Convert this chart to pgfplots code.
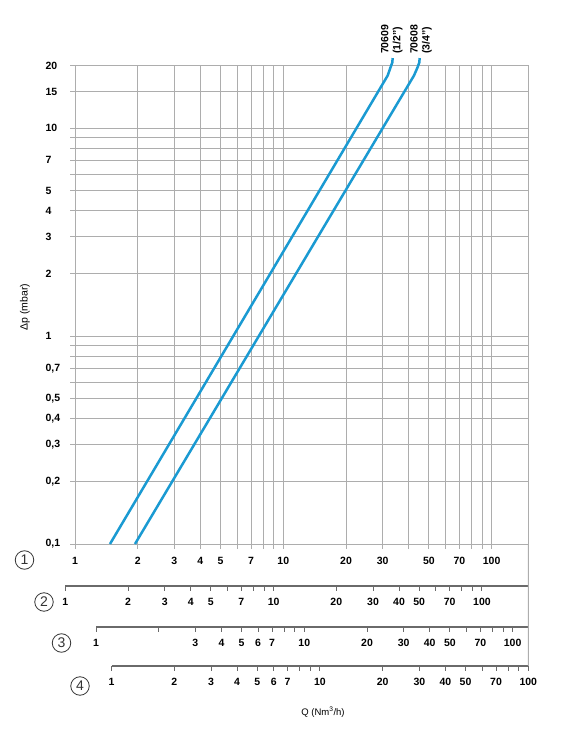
\documentclass[border=0pt]{standalone}
\usepackage{pgfplots}
\pgfplotsset{compat=1.18}
\usepackage{fontspec}
\setmainfont{Liberation Sans}
\definecolor{gridc}{HTML}{ADADAD}
\definecolor{scalec}{HTML}{6A6A6A}
\definecolor{flow}{HTML}{1A9AD2}
\definecolor{numc}{HTML}{333333}
\newcommand\tlf{\bfseries\fontsize{10.5}{12}\selectfont}

\begin{document}
\begin{tikzpicture}
\path[use as bounding box] (0,0) rectangle (561pt,737pt);

% main chart: pressure drop vs flow
\begin{axis}[
    name=main, at={(75pt,193pt)}, anchor=south west,
    scale only axis, width=453.3pt, height=478.5pt,
    xmode=log, ymode=log,
    xmin=1, xmax=150, ymin=0.1, ymax=20,
    xtick={1,2,3,4,5,6,7,8,9,10,20,30,40,50,60,70,80,90,100},
    xticklabels={1,2,3,4,5,,7,,,10,20,30,,50,,70,,,100},
    ytick={0.1,0.2,0.3,0.4,0.5,0.6,0.7,0.8,0.9,1,2,3,4,5,6,7,8,9,10,15,20},
    yticklabels={{0,1},{0,2},{0,3},{0,4},{0,5},{},{0,7},{},{},1,2,3,4,5,{},7,{},{},10,15,20},
    xminorticks=false, yminorticks=false,
    xtick pos=bottom, ytick pos=left,
    grid=major, major grid style={gridc, line width=0.9pt},
    axis line style={gridc, line width=0.9pt},
    tick style={gridc, line width=0.9pt},
    tick align=outside, major tick length=5pt,
    ticklabel style={font=\tlf},
    xticklabel style={yshift=-5pt},
    yticklabel style={anchor=west, xshift=-28pt},
    clip=false,
]
\addplot[flow, line width=2.5pt, line join=round] coordinates {
    (1.472,0.1) (31.7,17.89) (32.69,19.55) (33.35,20.66) (33.5,21.71)
};
\addplot[flow, line width=2.5pt, line join=round] coordinates {
    (1.941,0.1) (42.39,17.89) (44.06,19.55) (44.95,20.66) (45.15,21.71)
};
\node[rotate=90, anchor=west, inner sep=0pt, align=left, font=\tlf]
    at (axis cs:33.2,22.7) {70609\\(1/2")};
\node[rotate=90, anchor=west, inner sep=0pt, align=left, font=\tlf]
    at (axis cs:45.8,22.7) {70608\\(3/4")};
\end{axis}

% nomogram scale 2
\begin{axis}[name=s2, at={(65.3pt,151pt)}, anchor=south west,
    scale only axis, width=463pt, height=10pt,
    xmode=log, xmin=1, xmax=166.9, ymin=0, ymax=1,
    axis x line*=bottom, axis y line=none,
    x axis line style={-, scalec, line width=1.1pt},
    xtick={1,2,3,4,5,6,7,8,9,10,20,30,40,50,60,70,80,90,100},
    xticklabels={1,2,3,4,5,,7,,,10,20,30,40,50,,70,,,100},
    xminorticks=false, tick align=outside, major tick length=5pt,
    xtick style={scalec, line width=1pt},
    xticklabel style={font=\tlf, yshift=-4pt}]
\addplot[draw=none] coordinates {(1,0)};
\end{axis}
% nomogram scale 3
\begin{axis}[name=s3, at={(96pt,110pt)}, anchor=south west,
    scale only axis, width=432.3pt, height=10pt,
    xmode=log, xmin=1, xmax=118.9, ymin=0, ymax=1,
    axis x line*=bottom, axis y line=none,
    x axis line style={-, scalec, line width=1.1pt},
    xtick={1,2,3,4,5,6,7,8,9,10,20,30,40,50,60,70,80,90,100},
    xticklabels={1,,3,4,5,6,7,,,10,20,30,40,50,,70,,,100},
    xminorticks=false, tick align=outside, major tick length=5pt,
    xtick style={scalec, line width=1pt},
    xticklabel style={font=\tlf, yshift=-4pt}]
\addplot[draw=none] coordinates {(1,0)};
\end{axis}
% nomogram scale 4
\begin{axis}[name=s4, at={(111.6pt,71pt)}, anchor=south west,
    scale only axis, width=416.7pt, height=10pt,
    xmode=log, xmin=1, xmax=100, ymin=0, ymax=1,
    axis x line*=bottom, axis y line=none,
    x axis line style={-, scalec, line width=1.1pt},
    xtick={1,2,3,4,5,6,7,8,9,10,20,30,40,50,60,70,80,90,100},
    xticklabels={1,2,3,4,5,6,7,,,10,20,30,40,50,,70,,,100},
    xminorticks=false, tick align=outside, major tick length=5pt,
    xtick style={scalec, line width=1pt},
    xticklabel style={font=\tlf, yshift=-4pt}]
\addplot[draw=none] coordinates {(1,0)};
\end{axis}

\draw[gridc, line width=0.9pt] (main.south east) -- (s4.south east);

\node[rotate=90] at (25pt,430pt) {\fontsize{10.5}{12}\selectfont Δp (mbar)};
\node at (323pt,25pt) {\fontsize{9.5}{11}\selectfont Q (Nm\textsuperscript{3}/h)};

\tikzset{circnum/.style={circle, draw=numc, line width=0.8pt, minimum size=18.5pt,
    inner sep=0pt, text=numc, font=\fontsize{14}{14}\selectfont}}
\node[circnum] at (24.5pt,177pt) {1};
\node[circnum] at (44pt,135pt) {2};
\node[circnum] at (61.5pt,94pt) {3};
\node[circnum] at (80pt,51pt) {4};
\end{tikzpicture}
\end{document}
